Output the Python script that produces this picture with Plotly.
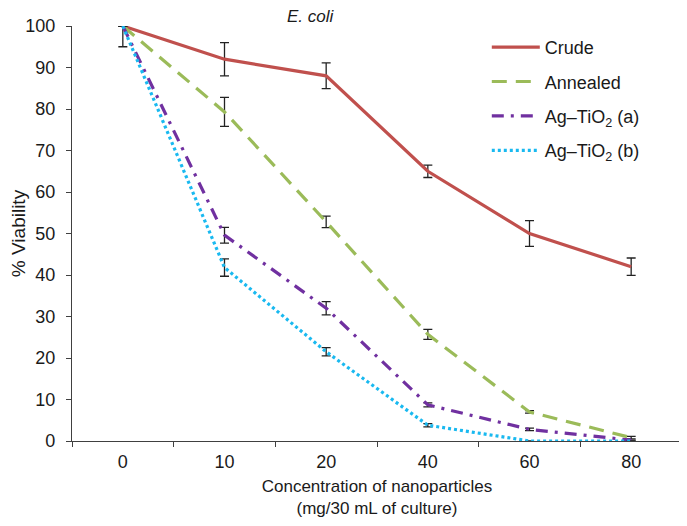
import plotly.graph_objects as go

categories = ["0", "10", "20", "40", "60", "80"]

crude = [100, 92, 88, 65, 50, 42]
crude_err_plus = [0, 4, 3.1, 1.5, 3.1, 2.1]
crude_err_minus = [5, 4, 3.1, 1.5, 3.1, 2.1]

annealed = [100, 79.3, 52.8, 25.7, 7, 0.8]
annealed_err = [0, 3.5, 1.4, 1.2, 0.3, 0.3]

ag_a = [100, 49.6, 32, 8.7, 2.8, 0.2]
ag_a_err = [0, 1.9, 1.6, 0.5, 0.3, 0]

ag_b = [100, 41.8, 21.5, 3.8, 0, 0]
ag_b_err = [0, 2.1, 1.0, 0.4, 0, 0]

y_ticks = [0, 10, 20, 30, 40, 50, 60, 70, 80, 90, 100]

FONT = "Liberation Sans, Arial, sans-serif"
TXT = "#1a1a1a"

def err(plus, minus=None):
    d = dict(type="data", array=plus, color="#222222", thickness=1.3, width=4.5)
    if minus is not None:
        d["symmetric"] = False
        d["arrayminus"] = minus
    return d

fig = go.Figure()
fig.add_trace(go.Scatter(
    x=categories, y=crude, name="Crude", mode="lines",
    line=dict(color="#C0504D", width=3.2),
    error_y=err(crude_err_plus, crude_err_minus), legendgroup="a"))
fig.add_trace(go.Scatter(
    x=categories, y=annealed, name="Annealed", mode="lines",
    line=dict(color="#9BBB59", width=3.2, dash="15px,9px"),
    error_y=err(annealed_err), legendgroup="b"))
fig.add_trace(go.Scatter(
    x=categories, y=ag_a, name="Ag–TiO<sub>2</sub> (a)", mode="lines",
    line=dict(color="#7030A0", width=3.2, dash="12px,7px,3px,7px"),
    error_y=err(ag_a_err), legendgroup="c"))
fig.add_trace(go.Scatter(
    x=categories, y=ag_b, name="Ag–TiO<sub>2</sub> (b)", mode="lines",
    line=dict(color="#19B9F0", width=3.2, dash="3px,3px"),
    error_y=err(ag_b_err), legendgroup="d"))

# page body adds an 8px offset; sizes compensate so the plot sits where the reference's does
fig.update_layout(
    width=679, height=518,
    margin=dict(l=64, r=5, t=18, b=85, autoexpand=False),
    paper_bgcolor="white", plot_bgcolor="white",
    font=dict(family=FONT, size=16, color=TXT),
    showlegend=True,
    legend=dict(x=0.68, y=0.993, xanchor="left", yanchor="top",
                bgcolor="rgba(0,0,0,0)", font=dict(size=18),
                itemwidth=48, tracegroupgap=8, traceorder="grouped"),
    title=dict(text="<i>E. coli</i>", x=0.445, xanchor="center", y=0.996, yanchor="top",
               pad=dict(t=0, b=0), font=dict(size=17, family=FONT, color=TXT)),
)
fig.update_xaxes(
    type="category", range=[-0.5, 5.5], tickson="boundaries", automargin=False,
    showline=True, linecolor="#404040", linewidth=1.2,
    ticks="outside", ticklen=5, tickcolor="#404040", showgrid=False,
    zeroline=False, tickfont=dict(size=18), ticklabelstandoff=4,
    title=dict(text="Concentration of nanoparticles<br>(mg/30 mL of culture)",
               font=dict(size=17), standoff=9),
)
fig.update_yaxes(
    range=[0, 100], tickvals=y_ticks, ticktext=[str(v) for v in y_ticks],
    showline=True, linecolor="#404040", linewidth=1.2, automargin=False,
    ticks="outside", ticklen=5, tickcolor="#404040", showgrid=False,
    zeroline=False, tickfont=dict(size=18), ticklabelstandoff=7,
    title=dict(text="% Viability", font=dict(size=19), standoff=0),
)

fig.write_html("out.html")
